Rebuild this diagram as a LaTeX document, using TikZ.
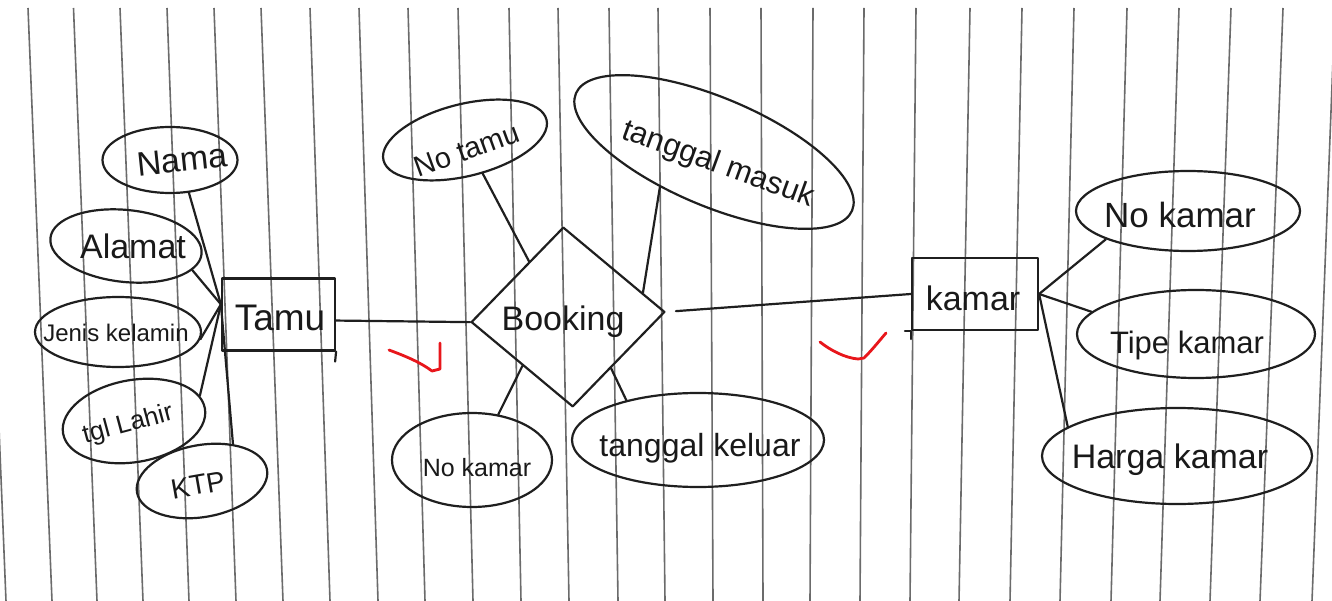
\documentclass[tikz,border=0pt]{standalone}
\usepackage{fontspec}
\setmainfont{Liberation Sans}
\usetikzlibrary{shapes.geometric}
\newcommand\hfs[1]{\fontsize{#1}{#1}\selectfont}
\begin{document}
\begin{tikzpicture}[x=1pt,y=-1pt,
  ink/.style={line width=2.2pt, draw=black!88, line cap=round, line join=round},
  paper/.style={line width=1.6pt, draw=black!58},
  attr/.style={ink, ellipse, inner sep=0pt},
  ent/.style={ink, rectangle, inner sep=0pt},
  rel/.style={ink, diamond, inner sep=0pt},
  lbl/.style={inner sep=0pt, text=black!90},
  conn/.style={ink},
  tick/.style={line width=2.8pt, draw={rgb,255:red,232;green,22;blue,27}, line cap=round, line join=round}]
\useasboundingbox (0,0) rectangle (1332,601);
\clip (0,0) rectangle (1332,601);
\fill[white] (0,0) rectangle (1332,601);
% ruled paper
\foreach \a/\b in {-18/6,28/52,73.5/97,120/143,167/189,214/236,261/283,310/330,359/378,408/425,458/473,509/521,558/569,609/618,658/665,710/713,761/763,813/810,864/860,916/910,970/959,1022/1010,1074/1060,1127/1111,1179/1160,1231/1210,1283/1260,1335/1312}
  \draw[paper] (\a,8) -- (\b,601);
% entities and relationship
\node[ent, minimum width=113pt, minimum height=72pt] (tamu) at (278.5,314.5) {};
\node[lbl, font=\hfs{37}] (tamuT) at (280,318) {Tamu};
\node[rel, minimum width=194pt, minimum height=180pt, rotate=3] (booking) at (568,317) {};
\node[lbl, font=\hfs{34}] (bookingT) at (563,322) {Booking};
\node[ent, minimum width=126pt, minimum height=72pt] (kamar) at (975,294) {};
\node[lbl, font=\hfs{34}] (kamarT) at (973,298) {kamar};
% attributes
\node[attr, minimum width=135pt, minimum height=66pt] (nama) at (170,160) {};
\node[lbl, font=\hfs{34}, rotate=6] (namaT) at (182,160) {Nama};
\node[attr, minimum width=152pt, minimum height=72pt, rotate=-6] (alamat) at (126,246) {};
\node[lbl, font=\hfs{34}] (alamatT) at (133,246) {Alamat};
\node[attr, minimum width=166pt, minimum height=70pt] (jenis) at (118,332) {};
\node[lbl, font=\hfs{24}] (jenisT) at (116,333) {Jenis kelamin};
\node[attr, minimum width=144pt, minimum height=82pt, rotate=10] (tgl) at (134,421) {};
\node[lbl, font=\hfs{26}, rotate=15] (tglT) at (128,425) {tgl Lahir};
\node[attr, minimum width=132pt, minimum height=72pt, rotate=10] (ktp) at (202,481) {};
\node[lbl, font=\hfs{28}, rotate=10] (ktpT) at (198,485) {KTP};
\node[attr, minimum width=168pt, minimum height=72pt, rotate=14] (notamu) at (465,140) {};
\node[lbl, font=\hfs{29}, rotate=20] (notamuT) at (467,150) {No tamu};
\node[attr, minimum width=300pt, minimum height=108pt, rotate=-23] (tmasuk) at (714,152) {};
\node[lbl, font=\hfs{31}, rotate=-20] (tmasukT) at (718,165) {tanggal masuk};
\node[attr, minimum width=160pt, minimum height=94pt] (nokamarA) at (472,460) {};
\node[lbl, font=\hfs{25}] (nokamarAT) at (477,468) {No kamar};
\node[attr, minimum width=252pt, minimum height=94pt] (tkeluar) at (698,440) {};
\node[lbl, font=\hfs{32}] (tkeluarT) at (700,448) {tanggal keluar};
\node[attr, minimum width=224pt, minimum height=80pt] (nokamarB) at (1188,211) {};
\node[lbl, font=\hfs{35}] (nokamarBT) at (1180,215) {No kamar};
\node[attr, minimum width=238pt, minimum height=88pt] (tipe) at (1196,334) {};
\node[lbl, font=\hfs{31}] (tipeT) at (1187,345) {Tipe kamar};
\node[attr, minimum width=270pt, minimum height=96pt] (harga) at (1177,456) {};
\node[lbl, font=\hfs{34}] (hargaT) at (1170,460) {Harga kamar};
% connectors
\coordinate (hubT) at (tamu.170);
\draw[conn] (nama.300) -- (hubT) -- (ktp.40);
\draw[conn] (alamat.-14) -- (hubT);
\draw[conn] (jenis.-5) -- (hubT);
\draw[conn] (tgl.11) -- (hubT);
\draw[conn] (tamu.-6) -- (booking.west);
\draw[conn, shorten <=10pt] (booking.east) -- (kamar.west);
\draw[conn] (notamu) -- (booking.122);
\draw[conn] (tmasuk.236) -- (booking.15);
\draw[conn] (booking.224) -- (nokamarA.60);
\draw[conn] (booking.307) -- (tkeluar.151);
\draw[conn] (kamar.east) -- (nokamarB.199);
\draw[conn] (kamar.east) -- (tipe.168);
\draw[conn] (kamar.east) -- (harga.165);
% hand-drawn overshoots
\draw[ink] (tamu.south east) -- ++(-1,10);
\draw[ink] (kamar.south west) -- ++(0,8);
\draw[ink] (kamar.south west) -- ++(-6,0);
% red check marks
\draw[tick] (389,350) .. controls (405,356) and (420,362) .. (432,371) -- (440,369) -- (440,343);
\draw[tick] (820,342) .. controls (830,350) and (845,358) .. (858,359) -- (864,358) .. controls (872,350) and (880,340) .. (886,333);
\end{tikzpicture}
\end{document}
